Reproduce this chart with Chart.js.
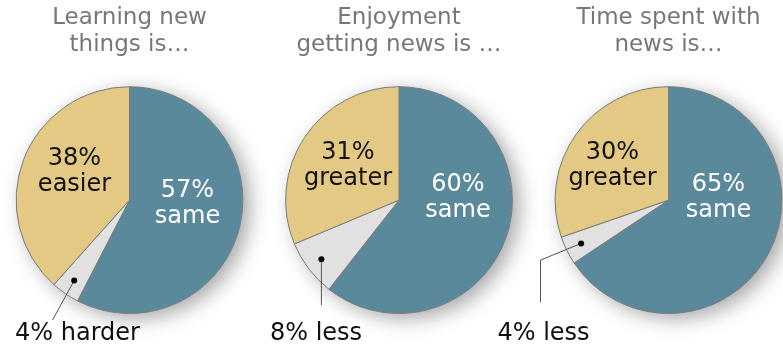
<!DOCTYPE html>
<html>
<head>
<meta charset="utf-8">
<script src="https://cdn.jsdelivr.net/npm/chart.js@4/dist/chart.umd.min.js"></script>
<style>
  html, body { margin: 0; padding: 0; background: #fff; }
  #wrap { position: relative; width: 783px; height: 345px; overflow: hidden; }
  #wrap canvas { position: absolute; top: 0; }
</style>
</head>
<body>
<div id="wrap">
  <canvas id="pie1" width="289" height="345" style="left:0px"></canvas>
  <canvas id="pie2" width="298" height="345" style="left:250px"></canvas>
  <canvas id="pie3" width="343" height="345" style="left:440px"></canvas>
</div>
<script>
// Data
const titles = [
    ['Learning new', 'things is…'],
    ['Enjoyment', 'getting news is …'],
    ['Time spent with', 'news is…']
];
const sameValues = [57, 60, 65];
const lessValues = [4, 8, 4];
const moreValues = [38, 31, 30];
const lessNames = ['harder', 'less', 'less'];
const moreNames = ['easier', 'greater', 'greater'];

const FONT = '"DejaVu Sans", Verdana, sans-serif';
const BLUE = '#5b899c';
const GREY = '#e1e1e1';
const YELLOW = '#e4c984';

// per-chart label layout (px, relative to the pie centre); null x = straight below the dot
const layouts = [
    { pad: { left: 0, right: 30 }, same: [58, -3], more: [-55, -35], elbow: [[-77, 120]], callX: -52 },
    { pad: { left: 20, right: 20 }, same: [59, -9], more: [-51, -41], elbow: [[null, 105]], callX: -83 },
    { pad: { left: 114, right: 0 }, same: [50, -9], more: [-56, -41], elbow: [[-128, 60], [-128, 102]], callX: -125 }
];

// shadow under the pie, labels and callout on top
const pieDecor = {
    id: 'pieDecor',
    beforeDatasetsDraw(chart) {
        const arc = chart.getDatasetMeta(0).data[0];
        const ctx = chart.ctx;
        ctx.save();
        ctx.shadowColor = 'rgba(0,0,0,0.35)';
        ctx.shadowBlur = 20;
        ctx.shadowOffsetX = 7;
        ctx.shadowOffsetY = 5;
        ctx.fillStyle = '#fff';
        ctx.beginPath();
        ctx.arc(arc.x, arc.y, arc.outerRadius, 0, Math.PI * 2);
        ctx.fill();
        ctx.restore();
    },
    afterDatasetsDraw(chart, args, opts) {
        const ctx = chart.ctx;
        const meta = chart.getDatasetMeta(0);
        const ds = chart.data.datasets[0];
        const names = chart.data.labels;
        const cx = meta.data[0].x, cy = meta.data[0].y;
        const L = opts.layout;
        ctx.save();
        ctx.font = '24px ' + FONT;
        ctx.textAlign = 'center';
        ctx.textBaseline = 'alphabetic';

        // in-slice labels
        const drawPair = (i, off, color) => {
            ctx.fillStyle = color;
            ctx.fillText(ds.data[i] + '%', cx + off[0], cy + off[1]);
            ctx.fillText(names[i], cx + off[0], cy + off[1] + 26);
        };
        drawPair(0, L.same, '#ffffff');
        drawPair(2, L.more, '#111111');

        // callout for the small slice
        const a = meta.data[1];
        const mid = (a.startAngle + a.endAngle) / 2;
        const dx = cx + Math.cos(mid) * a.outerRadius * 0.86;
        const dy = cy + Math.sin(mid) * a.outerRadius * 0.86;
        ctx.strokeStyle = '#555';
        ctx.lineWidth = 1;
        ctx.beginPath();
        ctx.moveTo(dx, dy);
        L.elbow.forEach(p => {
            ctx.lineTo(p[0] === null ? dx : cx + p[0], cy + p[1]);
        });
        ctx.stroke();
        ctx.fillStyle = '#000';
        ctx.beginPath();
        ctx.arc(dx, dy, 3, 0, Math.PI * 2);
        ctx.fill();
        ctx.fillStyle = '#111111';
        ctx.fillText(ds.data[1] + '% ' + names[1], cx + L.callX, 340);
        ctx.restore();
    }
};

for (let i = 0; i < 3; i++) {
    const L = layouts[i];
    new Chart(document.getElementById('pie' + (i + 1)), {
        type: 'pie',
        data: {
            labels: ['same', lessNames[i], moreNames[i]],
            datasets: [{
                data: [sameValues[i], lessValues[i], moreValues[i]],
                backgroundColor: [BLUE, GREY, YELLOW],
                borderColor: '#7a7a7a',
                borderWidth: 1,
                hoverOffset: 0
            }]
        },
        options: {
            responsive: false,
            animation: false,
            events: [],
            layout: { padding: { top: 0, bottom: 31, left: L.pad.left, right: L.pad.right } },
            plugins: {
                legend: { display: false },
                tooltip: { enabled: false },
                title: {
                    display: true,
                    text: titles[i],
                    color: '#777777',
                    font: { family: FONT, size: 23, weight: 'normal', lineHeight: 1.2 },
                    padding: { top: 4, bottom: 27 }
                },
                pieDecor: { layout: L }
            }
        },
        plugins: [pieDecor]
    });
}
</script>
</body>
</html>
